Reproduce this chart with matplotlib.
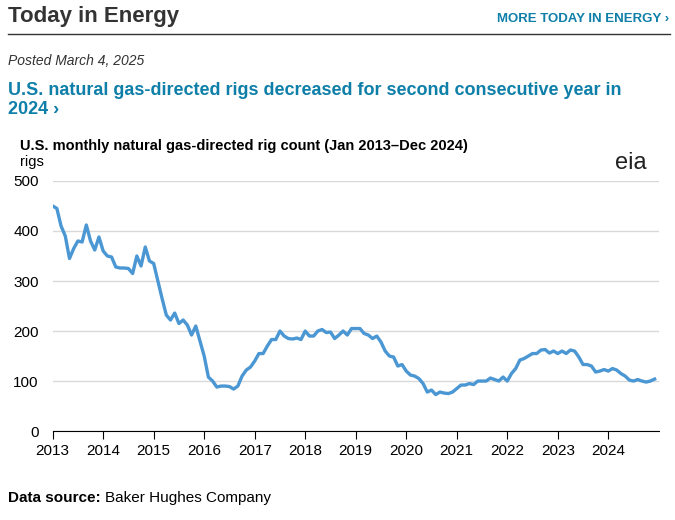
import numpy as np
import matplotlib
matplotlib.use("Agg")
import matplotlib.pyplot as plt
from matplotlib.lines import Line2D

YEARS = list(range(2013, 2025))
RIGS = [
    450, 445, 410, 390, 345, 365, 380, 378, 412, 380, 362, 388,
    360, 350, 348, 328, 326, 326, 325, 315, 350, 330, 368, 340,
    335, 300, 265, 232, 222, 236, 215, 222, 212, 192, 210, 180,
    150, 108, 100, 88, 90, 90, 89, 84, 90, 110, 122, 128,
    140, 155, 155, 170, 183, 183, 200, 190, 185, 184, 186, 183,
    200, 190, 190, 200, 203, 197, 198, 185, 192, 200, 192, 205,
    205, 205, 195, 192, 185, 190, 178, 160, 150, 148, 130, 133,
    120, 112, 110, 105, 95, 78, 82, 73, 78, 76, 75, 78,
    85, 92, 92, 95, 93, 100, 100, 100, 106, 103, 100, 108,
    100, 115, 125, 142, 145, 150, 155, 155, 162, 163, 156, 160,
    155, 160, 155, 162, 160, 148, 133, 133, 130, 118, 120, 123,
    120, 125, 122, 115, 110, 102, 100, 103, 100, 98, 100, 104,
]
Y_TICKS = [0, 100, 200, 300, 400, 500]

BLUE = "#4a97d4"
TEAL = "#0e7fa8"

plt.rcParams["font.family"] = ["Liberation Sans", "DejaVu Sans"]

fig = plt.figure(figsize=(6.75, 5.2), dpi=100)

fig.text(0.012, 0.958, "Today in Energy", fontsize=16, fontweight="bold", color="#333333")
fig.text(0.992, 0.958, "MORE TODAY IN ENERGY ›", fontsize=9.5, fontweight="bold",
         color=TEAL, ha="right")
fig.add_artist(Line2D([0.012, 0.992], [0.935, 0.935], color="#333333", lw=1))
fig.text(0.012, 0.875, "Posted March 4, 2025", fontsize=10, style="italic", color="#333333")
fig.text(0.012, 0.78, "U.S. natural gas-directed rigs decreased for second consecutive year in\n2024 ›",
         fontsize=13, fontweight="bold", color=TEAL, linespacing=1.15)
fig.text(0.03, 0.712, "U.S. monthly natural gas-directed rig count (Jan 2013\u2013Dec 2024)",
         fontsize=10.5, fontweight="bold", color="black")
fig.text(0.03, 0.68, "rigs", fontsize=10.5, color="black")
fig.text(0.935, 0.675, "eia", fontsize=17, color="#222222", ha="center")
fig.text(0.012, 0.035, "Data source:", fontsize=11, fontweight="bold", color="black")
fig.text(0.155, 0.035, "Baker Hughes Company", fontsize=11, color="black")

ax = fig.add_axes([0.078, 0.171, 0.898, 0.481])
x = np.arange(len(RIGS)) / 12 + YEARS[0]
ax.plot(x, RIGS, color=BLUE, lw=2.4, solid_joinstyle="round")
ax.set_xlim(2013, 2025)
ax.set_ylim(0, 500)
ax.set_yticks(Y_TICKS)
ax.set_xticks(YEARS)
ax.set_xticklabels([str(y) for y in YEARS])
ax.grid(axis="y", color="#d9d9d9", lw=1)
ax.set_axisbelow(True)
for s in ("top", "right", "left"):
    ax.spines[s].set_visible(False)
ax.spines["bottom"].set_color("black")
ax.tick_params(axis="y", length=0, labelsize=11, pad=10)
ax.tick_params(axis="x", length=6, labelsize=11, direction="out")

fig.savefig("out.png", dpi=100)
